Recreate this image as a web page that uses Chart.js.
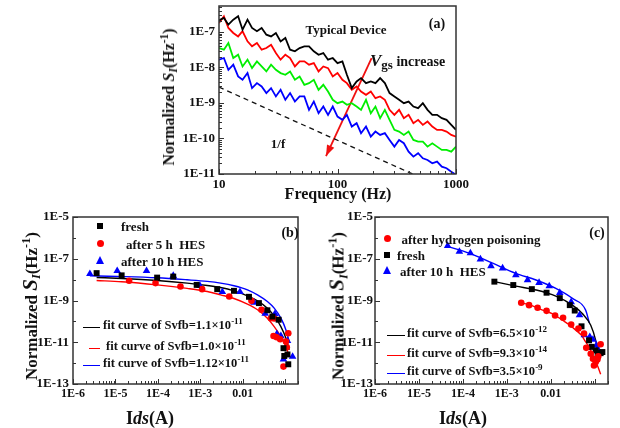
<!DOCTYPE html>
<html>
<head>
<meta charset="utf-8">
<title>Normalized noise spectra</title>
<script src="https://cdn.jsdelivr.net/npm/chart.js@4.4.1/dist/chart.umd.min.js"></script>
<style>
  body { margin: 0; background: #fff; }
  #fig { position: relative; width: 620px; height: 428px; overflow: hidden; background: #fff;
         font-family: "Liberation Serif", "Times New Roman", serif; font-weight: bold; color: #111; }
  canvas { position: absolute; }
  .t { position: absolute; white-space: nowrap; line-height: 1; }
  .c { transform: translate(-50%, -50%); }
  .l { transform: translateY(-50%); }
  .r { transform: translate(-50%, -50%) rotate(-90deg); }
  sub { font-size: 0.72em; vertical-align: -0.3em; line-height: 0; }
  sup { font-size: 0.72em; vertical-align: 0.55em; line-height: 0; }
  .mk { position: absolute; }
  .sq { width: 6px; height: 6px; background: #000; }
  .ci { width: 7px; height: 7px; border-radius: 50%; background: #f00; }
  .tri { width: 0; height: 0; border-left: 4.5px solid transparent; border-right: 4.5px solid transparent;
         border-bottom: 8px solid #00f; }
  .ln { position: absolute; height: 1.5px; }
</style>
</head>
<body>
<div id="fig">
  <canvas id="chartA" width="320" height="210" style="left:150px;top:0"></canvas>
  <canvas id="chartB" width="310" height="218" style="left:0;top:210px"></canvas>
  <canvas id="chartC" width="310" height="218" style="left:310px;top:210px"></canvas>

  <!-- panel (a) texts -->
  <div class="t r" style="left:169px;top:97px;font-size:16px">Normalized <i>S</i><sub><i>I</i></sub>(Hz<sup>-1</sup>)</div>
  <div class="t c" style="left:338px;top:194px;font-size:16px">Frequency (Hz)</div>
  <div class="t c" style="left:346px;top:29px;font-size:13px">Typical Device</div>
  <div class="t c" style="left:437px;top:24px;font-size:14px">(a)</div>
  <div class="t l" style="left:370px;top:60px;font-size:14px"><i style="font-size:17px">V</i><sub style="font-size:13px">gs</sub> increase</div>
  <div class="t c" style="left:278px;top:143px;font-size:13px">1/f</div>

  <!-- panel (b) texts -->
  <div class="t r" style="left:30px;top:306px;font-size:17px">Normalized <i style="font-size:21px">S</i><sub><i>I</i></sub>(Hz<sup>-1</sup>)</div>
  <div class="t c" style="left:150px;top:418px;font-size:18px">I<i>ds</i>(A)</div>
  <div class="t c" style="left:290px;top:233px;font-size:14px">(b)</div>
  <div class="mk sq" style="left:97px;top:223px"></div>
  <div class="mk ci" style="left:96.5px;top:240px"></div>
  <div class="mk tri" style="left:95.5px;top:256px"></div>
  <div class="t l" style="left:121px;top:226px;font-size:13px">fresh</div>
  <div class="t l" style="left:126px;top:243.5px;font-size:13px">after 5 h&nbsp; HES</div>
  <div class="t l" style="left:121px;top:261px;font-size:13px">after 10 h HES</div>
  <div class="ln" style="left:83px;top:326.5px;width:17px;background:#000"></div>
  <div class="ln" style="left:89px;top:347.5px;width:11px;background:#f00"></div>
  <div class="ln" style="left:83px;top:364.5px;width:17px;background:#00f"></div>
  <div class="t l" style="left:103px;top:325px;font-size:12.5px">fit curve of Svfb=1.1×10<sup>-11</sup></div>
  <div class="t l" style="left:106px;top:346px;font-size:12.5px">fit curve of Svfb=1.0×10<sup>-11</sup></div>
  <div class="t l" style="left:103px;top:363px;font-size:12.5px">fit curve of Svfb=1.12×10<sup>-11</sup></div>

  <!-- panel (c) texts -->
  <div class="t r" style="left:337px;top:306px;font-size:17px">Normalized <i style="font-size:21px">S</i><sub><i>I</i></sub>(Hz<sup>-1</sup>)</div>
  <div class="t c" style="left:463px;top:418px;font-size:18px">I<i>ds</i>(A)</div>
  <div class="t c" style="left:597px;top:233px;font-size:14px">(c)</div>
  <div class="mk ci" style="left:383.5px;top:235px"></div>
  <div class="mk sq" style="left:384px;top:251.5px"></div>
  <div class="mk tri" style="left:382.5px;top:266px"></div>
  <div class="t l" style="left:401.5px;top:238.5px;font-size:13px">after hydrogen poisoning</div>
  <div class="t l" style="left:397px;top:254.5px;font-size:13px">fresh</div>
  <div class="t l" style="left:400px;top:271px;font-size:13px">after 10 h&nbsp; HES</div>
  <div class="ln" style="left:387px;top:334.5px;width:18px;background:#000"></div>
  <div class="ln" style="left:387px;top:354.5px;width:18px;background:#f00"></div>
  <div class="ln" style="left:387px;top:372.5px;width:18px;background:#00f"></div>
  <div class="t l" style="left:407px;top:333px;font-size:12.5px">fit curve of Svfb=6.5×10<sup>-12</sup></div>
  <div class="t l" style="left:407px;top:353px;font-size:12.5px">fit curve of Svfb=9.3×10<sup>-14</sup></div>
  <div class="t l" style="left:407px;top:371px;font-size:12.5px">fit curve of Svfb=3.5×10<sup>-9</sup></div>
</div>

<script>
// ---- panel (a): normalized noise spectra vs frequency
const freq = [10, 11, 12, 13.2, 14.5, 15.8, 17.4, 19, 20.9, 22.9, 25.1, 27.5, 30.2, 33.1, 36.3, 39.8,
    43.7, 47.9, 52.5, 57.5, 63.1, 69.2, 75.9, 83.2, 91.2, 100, 110, 120, 132, 145, 158, 174, 191, 209,
    229, 251, 275, 302, 331, 363, 398, 437, 479, 525, 575, 631, 692, 759, 832, 912, 1000];
const aBlack = [2.13e-7, 2.48e-7, 1.61e-7, 2.23e-7, 2.77e-7, 1.16e-7, 2.23e-7, 1.3e-7, 1.05e-7, 1.3e-7,
    8.4e-8, 7.5e-8, 9.4e-8, 5.45e-8, 6.8e-8, 3.17e-8, 2.85e-8, 3.53e-8, 3.94e-8, 3.94e-8, 2.85e-8,
    2.29e-8, 2.55e-8, 1.66e-8, 1.85e-8, 1.33e-8, 1.49e-8, 6.24e-9, 2.62e-9, 4.05e-9, 5.03e-9, 3.63e-9,
    4.05e-9, 3.63e-9, 5.03e-9, 3.63e-9, 1.9e-9, 1.53e-9, 1.23e-9, 9.9e-10, 1.1e-9, 7.96e-10, 7.14e-10,
    9.9e-10, 6.41e-10, 4.63e-10, 4.63e-10, 3.73e-10, 3.35e-10, 2.42e-10, 1.75e-10];
const aRed = [1.79e-7, 2.77e-7, 1.3e-7, 9.4e-8, 7.5e-8, 1.05e-7, 5.45e-8, 3.94e-8, 4.89e-8, 3.17e-8,
    3.53e-8, 4.39e-8, 2.55e-8, 1.66e-8, 2.29e-8, 1.85e-8, 1.07e-8, 1.49e-8, 1.49e-8, 1.2e-8, 1.33e-8,
    7.75e-9, 1.07e-8, 9.6e-9, 5.6e-9, 6.96e-9, 4.51e-9, 3.63e-9, 2.35e-9, 2.92e-9, 2.11e-9, 1.7e-9,
    2.11e-9, 1.37e-9, 1.53e-9, 1.23e-9, 6.41e-10, 4.63e-10, 6.41e-10, 3.73e-10, 4.63e-10, 2.7e-10,
    3.35e-10, 2.42e-10, 3.01e-10, 2.17e-10, 1.75e-10, 1.75e-10, 1.57e-10, 1.26e-10, 1.13e-10];
const aGreen = [3.53e-8, 3.17e-8, 4.89e-8, 1.85e-8, 2.29e-8, 1.07e-8, 1.66e-8, 9.6e-9, 1.49e-8, 1.07e-8,
    7.75e-9, 1.2e-8, 8.6e-9, 6.96e-9, 6.24e-9, 7.75e-9, 4.51e-9, 5.6e-9, 3.26e-9, 3.63e-9, 4.51e-9,
    2.35e-9, 3.26e-9, 2.11e-9, 1.23e-9, 9.9e-10, 1.1e-9, 8.9e-10, 9.9e-10, 7.96e-10, 6.41e-10, 1.23e-9,
    5.16e-10, 7.96e-10, 3.73e-10, 6.41e-10, 3.35e-10, 1.75e-10, 1.57e-10, 1.26e-10, 1.57e-10, 9.1e-11,
    8.2e-11, 8.2e-11, 5.9e-11, 7.35e-11, 5.9e-11, 4.76e-11, 4.76e-11, 4.27e-11, 5.9e-11];
const aBlue = [1.66e-8, 1.85e-8, 8.6e-9, 1.2e-8, 5.6e-9, 4.51e-9, 6.96e-9, 2.62e-9, 3.63e-9, 2.92e-9,
    1.9e-9, 2.62e-9, 1.53e-9, 2.35e-9, 1.23e-9, 1.9e-9, 1.1e-9, 1.53e-9, 1.53e-9, 6.41e-10, 1.1e-9,
    5.16e-10, 7.96e-10, 4.63e-10, 7.96e-10, 4.16e-10, 3.35e-10, 4.63e-10, 2.17e-10, 2.7e-10, 1.41e-10,
    2.17e-10, 1.13e-10, 1.57e-10, 1.26e-10, 1.41e-10, 9.1e-11, 5.9e-11, 9.1e-11, 7.35e-11, 4.27e-11,
    3.08e-11, 3.84e-11, 2.77e-11, 2.48e-11, 2e-11, 2.23e-11, 1.61e-11, 1.45e-11, 1.16e-11, 9.4e-12];
const slopeF = [10, 430];
const slopeS = [2.8e-9, 1e-11];
const arrowF = [194, 80];
const arrowS = [1.85e-8, 3.2e-11];
const aXTicks = [10, 100, 1000];
const aXLabels = ['10', '100', '1000'];
const aYTicks = [1e-11, 1e-10, 1e-9, 1e-8, 1e-7];
const aYLabels = ['1E-11', '1E-10', '1E-9', '1E-8', '1E-7'];

// ---- panels (b) and (c): noise vs drain current
const bcXTicks = [1e-6, 1e-5, 1e-4, 1e-3, 1e-2];
const bcXLabels = ['1E-6', '1E-5', '1E-4', '1E-3', '0.01'];
const bcYTicks = [1e-13, 1e-11, 1e-9, 1e-7, 1e-5];
const bcYLabels = ['1E-13', '1E-11', '1E-9', '1E-7', '1E-5'];

const bFreshI = [3.6e-6, 1.4e-5, 9.6e-5, 2.3e-4, 8.2e-4, 2.5e-3, 6.2e-3, 0.014, 0.024, 0.038, 0.05, 0.07,
    0.091, 0.095, 0.113, 0.118];
const bFreshS = [2.05e-8, 1.6e-8, 1.25e-8, 1.4e-8, 5.6e-9, 3.5e-9, 2.9e-9, 1.5e-9, 7.5e-10, 3.4e-10,
    1.7e-10, 1.2e-10, 5.2e-12, 2.2e-12, 2.6e-12, 8.8e-13];
const b5hI = [2.1e-5, 8.8e-5, 3.4e-4, 1.1e-3, 4.8e-3, 0.016, 0.0276, 0.046, 0.055, 0.053, 0.063, 0.076,
    0.104, 0.109, 0.118, 0.091];
const b5hS = [8.8e-9, 6.8e-9, 4.7e-9, 3.5e-9, 1.56e-9, 9.6e-10, 3.6e-10, 1.42e-10, 1.37e-10, 2e-11,
    1.74e-11, 1.4e-11, 1.08e-11, 5.75e-12, 2.7e-11, 6.8e-13];
const b10hI = [2.5e-6, 1.1e-5, 5.4e-5, 2.3e-4, 9.8e-4, 3.3e-3, 8.6e-3, 0.0185, 0.0337, 0.057, 0.0635,
    0.079, 0.113, 0.149, 0.091];
const b10hS = [1.9e-8, 2.65e-8, 2.65e-8, 1.53e-8, 5.1e-9, 2.6e-9, 2.6e-9, 8e-10, 2.4e-10, 2.3e-10,
    2.5e-11, 2e-11, 1.16e-11, 2.05e-12, 1.53e-12];
const bFitBlueI = [2.5e-6, 1.1e-5, 9.6e-5, 4.9e-4, 1.46e-3, 3e-3, 6.2e-3, 0.0129, 0.0222, 0.038, 0.055,
    0.079, 0.104, 0.124];
const bFitBlueS = [1.53e-8, 1.42e-8, 1.22e-8, 9.8e-9, 8.2e-9, 6.8e-9, 5.1e-9, 3.25e-9, 1.87e-9, 8.95e-10,
    4.3e-10, 1.42e-10, 3.9e-11, 1.08e-11];
const bFitI = [3.6e-6, 1.4e-5, 9.6e-5, 4.9e-4, 1.46e-3, 3e-3, 6.2e-3, 0.0129, 0.0222, 0.038, 0.055,
    0.079, 0.104, 0.124];
const bFitBlackS = [1.27e-8, 1.14e-8, 9.1e-9, 6.8e-9, 5.25e-9, 4.2e-9, 2.9e-9, 1.67e-9, 9.6e-10, 4.3e-10,
    1.84e-10, 5.6e-11, 1.56e-11, 4.3e-12];
const bFitRedS = [9.1e-9, 7.9e-9, 5.6e-9, 3.8e-9, 2.7e-9, 1.87e-9, 1.25e-9, 6.7e-10, 3.6e-10, 1.42e-10,
    5.6e-11, 1.87e-11, 6.2e-12, 2.05e-12];

const cH2I = [2.12e-3, 3.2e-3, 5e-3, 8e-3, 0.0125, 0.019, 0.029, 0.0425, 0.057, 0.064, 0.081, 0.091,
    0.105, 0.096, 0.115, 0.12, 0.136];
const cH2S = [7.8e-10, 6e-10, 4.5e-10, 3.2e-10, 1.9e-10, 1.5e-10, 7e-11, 4.5e-11, 2.6e-11, 5.4e-12,
    2.8e-12, 1.6e-12, 1.12e-12, 7.7e-13, 1.5e-12, 2.1e-12, 8e-12];
const cFreshI = [5.2e-4, 1.4e-3, 3.7e-3, 8e-3, 0.016, 0.027, 0.035, 0.05, 0.074, 0.085, 0.105, 0.116,
    0.136, 0.149];
const cFreshS = [8e-9, 5.5e-9, 3.5e-9, 2.36e-9, 1.3e-9, 6e-10, 3.3e-10, 5.8e-11, 1.24e-11, 6e-12,
    4.1e-12, 3e-12, 3e-12, 3.4e-12];
const c10hI = [4.5e-5, 8.3e-5, 1.48e-4, 2.5e-4, 4.35e-4, 8e-4, 1.6e-3, 2.96e-3, 5.4e-3, 9.2e-3, 0.016,
    0.029, 0.045, 0.058, 0.077, 0.091, 0.109, 0.116];
const c10hS = [4.2e-7, 2.2e-7, 1.85e-7, 9.5e-8, 4.5e-8, 3.5e-8, 1.67e-8, 9.6e-9, 7.1e-9, 4.9e-9, 2.36e-9,
    8.5e-10, 2e-10, 2.24e-11, 1.8e-11, 1.33e-11, 7.1e-12, 4.9e-12];
const cFitBlueI = [4.5e-5, 1.4e-4, 4.75e-4, 1.6e-3, 4.6e-3, 0.013, 0.031, 0.062, 0.075];
const cFitBlueS = [3.9e-7, 1.85e-7, 6.1e-8, 2e-8, 9.6e-9, 3.8e-9, 1.26e-9, 3.45e-10, 8.5e-11];
const cFitBlackI = [5.2e-4, 1.6e-3, 4.6e-3, 0.013, 0.031, 0.052, 0.081, 0.105, 0.12];
const cFitBlackS = [8e-9, 4.9e-9, 3.2e-9, 1.63e-9, 6e-10, 2.4e-10, 6.5e-11, 1.24e-11, 2.8e-12];
const cFitRedI = [2.12e-3, 3.7e-3, 6.5e-3, 0.011, 0.0184, 0.026, 0.037, 0.05, 0.062, 0.074, 0.088, 0.1,
    0.115, 0.136];
const cFitRedS = [7.8e-10, 5.7e-10, 3.45e-10, 2.3e-10, 1.14e-10, 7.1e-11, 3.8e-11, 2.16e-11, 1.03e-11,
    5.9e-12, 2.8e-12, 1.4e-12, 7.7e-13, 2.9e-13];

const pts = (xs, ys) => xs.map((x, i) => ({ x: x, y: ys[i] }));
const FONT = 'Liberation Serif';

function logAxis(min, max, tickVals, tickText, boxSize, isX, fontSize, pad) {
    return {
        type: 'logarithmic',
        min: min,
        max: max,
        grid: { display: false, drawTicks: false },
        border: { display: false },
        afterBuildTicks: (s) => { s.ticks = tickVals.map(v => ({ value: v })); },
        afterFit: (s) => {
            if (isX) s.height = boxSize; else s.width = boxSize;
            s.paddingLeft = s.paddingRight = s.paddingTop = s.paddingBottom = 0;
        },
        ticks: {
            autoSkip: false,
            maxRotation: 0,
            padding: pad,
            color: '#111',
            font: { family: FONT, weight: 'bold', size: fontSize },
            callback: (v, i) => tickText[i],
        },
    };
}

// box around the plot, inward tick marks, arrow head
function tickValues(min, max, decadesOnly) {
    const out = [];
    for (let e = Math.floor(Math.log10(min)); e <= Math.ceil(Math.log10(max)); e++) {
        for (let m = 1; m <= (decadesOnly ? 1 : 9); m++) {
            const v = m * Math.pow(10, e);
            if (v >= min * 0.999 && v <= max * 1.001) out.push({ v: v, m: m, e: e });
        }
    }
    return out;
}

const framePlugin = {
    id: 'frame',
    afterDraw(chart, args, opts) {
        const { ctx, chartArea: a } = chart;
        const x = chart.scales.x, y = chart.scales.y;
        ctx.save();
        ctx.strokeStyle = '#333';
        ctx.lineWidth = 1;
        ctx.beginPath();
        tickValues(x.min, x.max, false).forEach(t => {
            const p = Math.round(x.getPixelForValue(t.v)) + 0.5;
            ctx.moveTo(p, a.bottom);
            ctx.lineTo(p, a.bottom - (t.m === 1 ? 5 : 3));
        });
        tickValues(y.min, y.max, opts.yDecades).forEach(t => {
            const p = Math.round(y.getPixelForValue(t.v)) + 0.5;
            const big = opts.yDecades ? Math.abs(t.e) % 2 === 1 : t.m === 1;
            ctx.moveTo(a.left, p);
            ctx.lineTo(a.left + (big ? 5 : 3), p);
        });
        ctx.stroke();
        ctx.lineWidth = 1.5;
        ctx.strokeRect(a.left, a.top, a.width, a.height);

        if (opts.arrow !== undefined) {
            const pts2 = chart.getDatasetMeta(opts.arrow).data;
            const p0 = pts2[0], p1 = pts2[1];
            const ang = Math.atan2(p1.y - p0.y, p1.x - p0.x);
            ctx.fillStyle = '#f01010';
            ctx.beginPath();
            ctx.moveTo(p1.x, p1.y);
            ctx.lineTo(p1.x - 11 * Math.cos(ang) + 4 * Math.sin(ang), p1.y - 11 * Math.sin(ang) - 4 * Math.cos(ang));
            ctx.lineTo(p1.x - 11 * Math.cos(ang) - 4 * Math.sin(ang), p1.y - 11 * Math.sin(ang) + 4 * Math.cos(ang));
            ctx.closePath();
            ctx.fill();
        }
        ctx.restore();
    },
};

function baseOptions(xAxis, yAxis, pad, frameOpts) {
    return {
        responsive: false,
        animation: false,
        devicePixelRatio: 1,
        layout: { padding: pad },
        scales: { x: xAxis, y: yAxis },
        elements: { line: { tension: 0 } },
        plugins: {
            legend: { display: false },
            tooltip: { enabled: false },
            frame: frameOpts,
        },
    };
}

const lineSet = (data, color, width) => ({
    data: data, borderColor: color, borderWidth: width, pointRadius: 0, fill: false,
});
const markSet = (data, color, style, r) => ({
    data: data, showLine: false, pointStyle: style, pointRadius: r,
    backgroundColor: color, borderColor: color, borderWidth: 0,
});
const fitSet = (data, color) => ({
    data: data, borderColor: color, borderWidth: 1.4, pointRadius: 0, fill: false,
    cubicInterpolationMode: 'monotone',
});

// panel (a)
new Chart(document.getElementById('chartA'), {
    type: 'line',
    data: {
        datasets: [
            lineSet(pts(freq, aBlack), '#000', 1.8),
            lineSet(pts(freq, aRed), '#ff0000', 1.8),
            lineSet(pts(freq, aGreen), '#00ee00', 1.8),
            lineSet(pts(freq, aBlue), '#0000ff', 1.8),
            Object.assign(lineSet(pts(slopeF, slopeS), '#111', 1.3), { borderDash: [5, 4] }),
            lineSet(pts(arrowF, arrowS), '#f01010', 1.8),
        ],
    },
    options: baseOptions(
        logAxis(10, 1000, aXTicks, aXLabels, 36, true, 13, 3),
        logAxis(1e-11, 5.4e-7, aYTicks, aYLabels, 69, false, 13, 4),
        { left: 0, top: 6, right: 14, bottom: 0 },
        { yDecades: false, arrow: 5 }
    ),
    plugins: [framePlugin],
});

// panel (b)
new Chart(document.getElementById('chartB'), {
    type: 'line',
    data: {
        datasets: [
            markSet(pts(bFreshI, bFreshS), '#000', 'rect', 4.2),
            markSet(pts(b5hI, b5hS), '#ff0000', 'circle', 3.3),
            markSet(pts(b10hI, b10hS), '#0000ff', 'triangle', 4.4),
            fitSet(pts(bFitI, bFitBlackS), '#000'),
            fitSet(pts(bFitI, bFitRedS), '#ff0000'),
            fitSet(pts(bFitBlueI, bFitBlueS), '#0000ff'),
        ],
    },
    options: baseOptions(
        logAxis(1e-6, 0.2, bcXTicks, bcXLabels, 44, true, 12, 3),
        logAxis(1e-13, 1e-5, bcYTicks, bcYLabels, 73, false, 13, 4),
        { left: 0, top: 7, right: 12, bottom: 0 },
        { yDecades: true }
    ),
    plugins: [framePlugin],
});

// panel (c)
new Chart(document.getElementById('chartC'), {
    type: 'line',
    data: {
        datasets: [
            markSet(pts(cH2I, cH2S), '#ff0000', 'circle', 3.3),
            markSet(pts(cFreshI, cFreshS), '#000', 'rect', 4.2),
            markSet(pts(c10hI, c10hS), '#0000ff', 'triangle', 4.4),
            fitSet(pts(cFitBlackI, cFitBlackS), '#000'),
            fitSet(pts(cFitRedI, cFitRedS), '#ff0000'),
            fitSet(pts(cFitBlueI, cFitBlueS), '#0000ff'),
        ],
    },
    options: baseOptions(
        logAxis(1e-6, 0.2, bcXTicks, bcXLabels, 44, true, 12, 3),
        logAxis(1e-13, 1e-5, bcYTicks, bcYLabels, 65, false, 13, 2),
        { left: 0, top: 7, right: 12, bottom: 0 },
        { yDecades: true }
    ),
    plugins: [framePlugin],
});
</script>
</body>
</html>
